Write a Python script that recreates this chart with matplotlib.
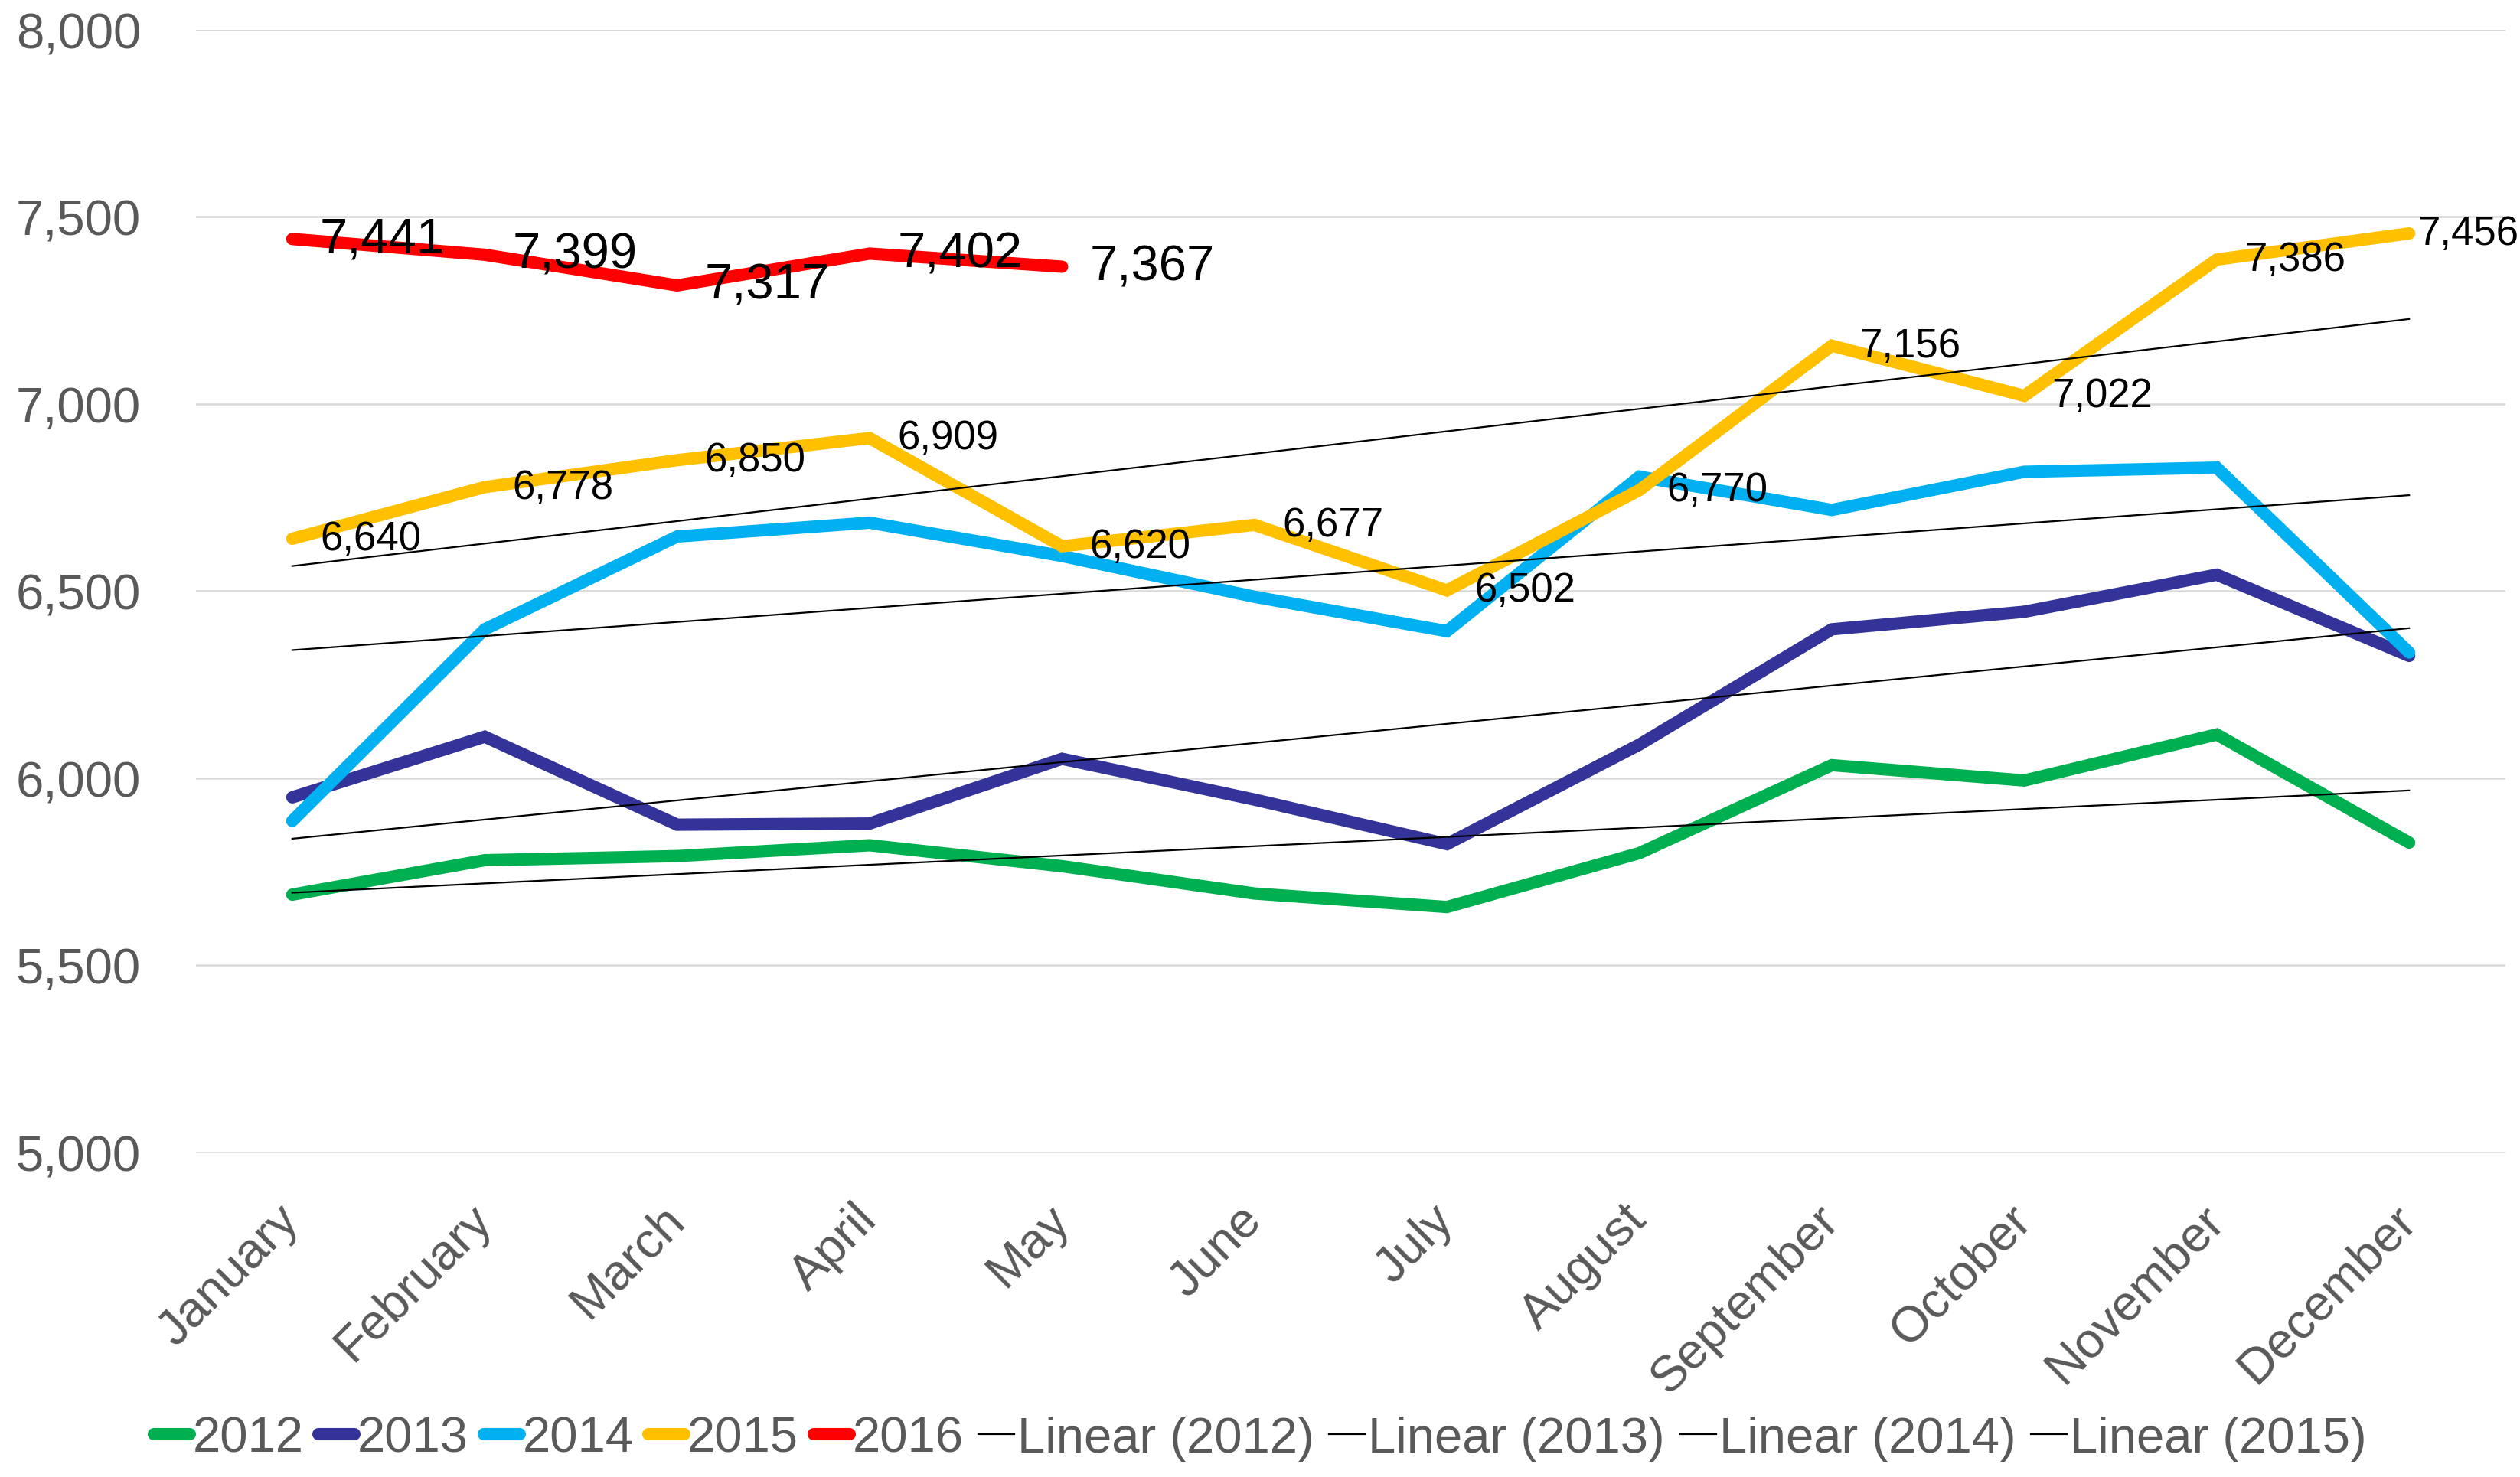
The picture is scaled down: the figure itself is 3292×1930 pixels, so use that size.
import numpy as np
import matplotlib
matplotlib.use("Agg")
import matplotlib.pyplot as plt
from matplotlib.ticker import FuncFormatter

plt.rcParams['font.family'] = ['Liberation Sans', 'DejaVu Sans']

months = ["January", "February", "March", "April", "May", "June", "July",
          "August", "September", "October", "November", "December"]
y2012 = [5689, 5781, 5792, 5821, 5765, 5692, 5656, 5800, 6035, 5994, 6117, 5828]
y2013 = [5949, 6111, 5876, 5879, 6052, 5943, 5824, 6090, 6398, 6445, 6544, 6327]
y2014 = [5886, 6398, 6646, 6683, 6594, 6485, 6393, 6806, 6717, 6819, 6830, 6336]
y2015 = [6640, 6778, 6850, 6909, 6620, 6677, 6502, 6770, 7156, 7022, 7386, 7456]
y2016 = [7441, 7399, 7317, 7402, 7367]
years = ["2012", "2013", "2014", "2015", "2016"]
series = [y2012, y2013, y2014, y2015, y2016]
colors = ["#00B050", "#333399", "#00B0F0", "#FFC000", "#FF0000"]
trend_years = ["2012", "2013", "2014", "2015"]
yticks = [5000, 5500, 6000, 6500, 7000, 7500, 8000]

fig = plt.figure(figsize=(16.46, 9.655), dpi=200)
ax = fig.add_axes([0.0778, 0.2196, 0.9942 - 0.0778, 0.9793 - 0.2196])

handles = []
for name, vals, col in zip(years, series, colors):
    x = np.arange(len(vals))
    ln, = ax.plot(x, vals, color=col, lw=5.8, solid_capstyle='round',
                  solid_joinstyle='miter', label=name, zorder=3)
    handles.append(ln)

for name, vals in zip(trend_years, series[:4]):
    x = np.arange(len(vals))
    k, b = np.polyfit(x, vals, 1)
    ln, = ax.plot(x, k * x + b, color='black', lw=0.8, label=f"Linear ({name})", zorder=4)
    handles.append(ln)

# data labels for 2015 and 2016
for i, v in enumerate(y2015):
    off = 13 if i < len(y2015) - 1 else 4
    ax.annotate(f"{v:,}", (i, v), xytext=(off, 0), textcoords='offset points',
                ha='left', va='center', fontsize=19, color='black', zorder=5,
                annotation_clip=False)
for i, v in enumerate(y2016):
    ax.annotate(f"{v:,}", (i, v), xytext=(13, 0), textcoords='offset points',
                ha='left', va='center', fontsize=23.5, color='black', zorder=5)

ax.set_xlim(-0.5, 11.5)
ax.set_ylim(5000, 8000)
ax.set_yticks(yticks)
ax.yaxis.set_major_formatter(FuncFormatter(lambda v, p: f"{v:,.0f}"))
ax.set_xticks(np.arange(len(months)))
ax.set_xticklabels(months, rotation=45, ha='right', va='center', rotation_mode='anchor')
ax.tick_params(axis='both', length=0, labelsize=23.5, colors='#595959')
ax.tick_params(axis='y', pad=26)
ax.tick_params(axis='x', pad=28)
ax.grid(axis='y', color='#D9D9D9', lw=0.9, zorder=0)
ax.set_axisbelow(True)
for s in ax.spines.values():
    s.set_visible(False)

fig.legend(handles=handles, loc='center', bbox_to_anchor=(0.5, 0.026), ncol=9,
           frameon=False, fontsize=23.5, handlelength=0.72, handletextpad=0.06,
           columnspacing=0.3, labelcolor='#595959', borderpad=0)

fig.savefig("out.png", dpi=200, facecolor='white')
